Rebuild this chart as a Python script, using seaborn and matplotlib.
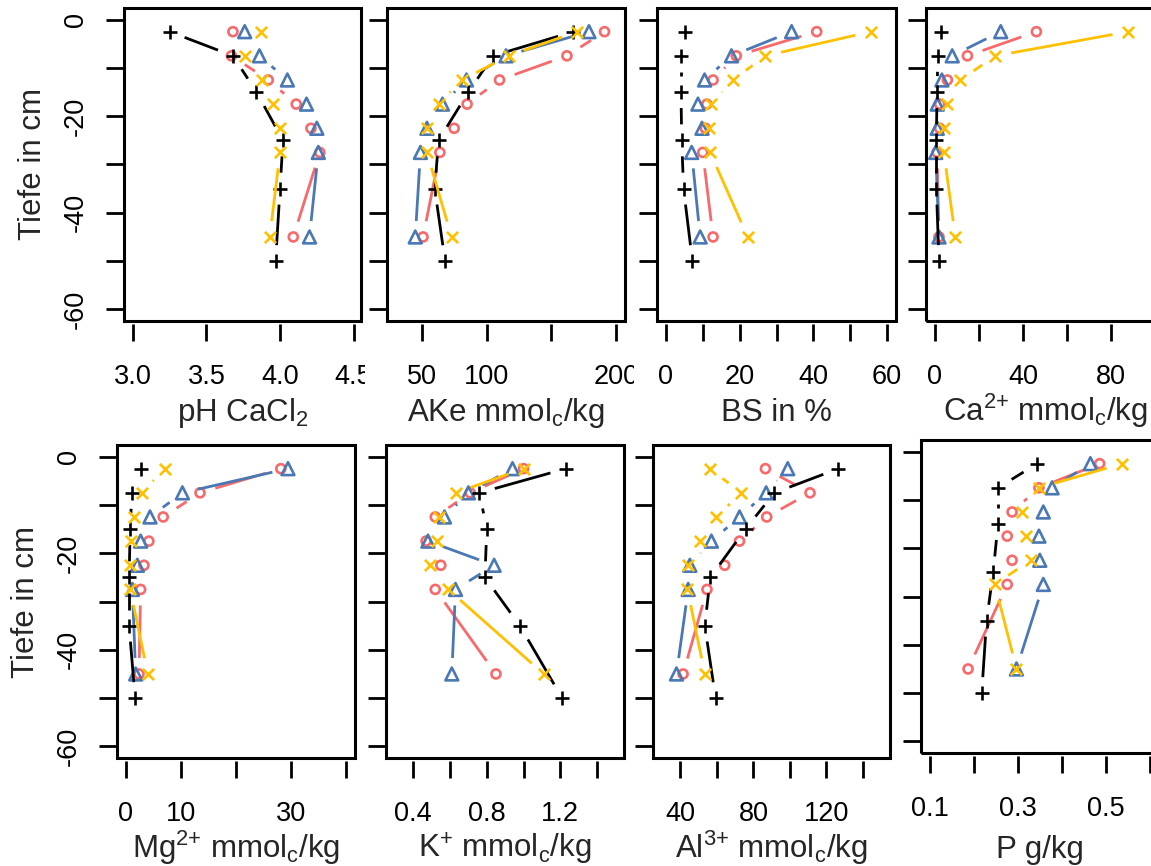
import matplotlib
matplotlib.use("Agg")
import matplotlib.pyplot as plt
import matplotlib.transforms as mtransforms
from matplotlib.patches import Rectangle
import numpy as np
import seaborn as sns

# depths (cm): coloured profiles and the black profile
depth_c = [-2.5, -7.5, -12.5, -17.5, -22.5, -27.5, -45]
depth_k = [-2.5, -7.5, -15, -25, -35, -50]

# pH CaCl2
ph_red = [3.68, 3.67, 3.92, 4.11, 4.21, 4.27, 4.09]
ph_blue = [3.76, 3.86, 4.05, 4.18, 4.25, 4.26, 4.20]
ph_black = [3.25, 3.68, 3.84, 4.02, 4.00, 3.97]
ph_yellow = [3.87, 3.76, 3.88, 3.95, 4.00, 4.00, 3.93]

# AKe mmolc/kg
ake_red = [191, 162, 110, 85, 75, 64, 51]
ake_blue = [179, 115, 84.5, 66, 54, 49, 45]
ake_black = [167, 105, 86, 63, 60, 68]
ake_yellow = [170, 117, 81, 63, 54, 54, 73]

# BS in %
bs_red = [40.9, 19.1, 12.8, 11.1, 10.7, 10.0, 12.8]
bs_blue = [34.1, 17.8, 10.5, 8.7, 9.8, 7.0, 9.3]
bs_black = [5.2, 4.1, 4.1, 4.3, 4.8, 7.2]
bs_yellow = [55.6, 27.0, 18.2, 12.3, 11.8, 12.0, 22.2]

# Ca2+ mmolc/kg
ca_red = [46.1, 14.8, 5.7, 2.2, 2.2, 1.0, 1.9]
ca_blue = [29.9, 7.9, 3.2, 1.1, 1.1, 0.4, 1.9]
ca_black = [2.9, 1.4, 1.0, 0.7, 0.7, 1.9]
ca_yellow = [87.8, 27.5, 11.6, 5.7, 4.1, 4.1, 9.3]

# Mg2+ mmolc/kg
mg_red = [28.2, 13.5, 6.8, 4.2, 3.3, 2.7, 2.4]
mg_blue = [29.5, 10.3, 4.4, 2.7, 2.1, 1.2, 1.8]
mg_black = [2.7, 1.1, 0.8, 0.6, 0.6, 1.7]
mg_yellow = [7.1, 2.9, 1.5, 0.9, 0.8, 0.8, 4.0]

# K+ mmolc/kg
k_red = [1.00, 0.71, 0.52, 0.47, 0.55, 0.52, 0.85]
k_blue = [0.94, 0.70, 0.57, 0.48, 0.84, 0.63, 0.61]
k_black = [1.23, 0.76, 0.80, 0.79, 0.98, 1.21]
k_yellow = [1.00, 0.63, 0.54, 0.53, 0.49, 0.59, 1.11]

# Al3+ mmolc/kg
al_red = [86.6, 111, 87.3, 72.4, 64.3, 54.6, 41.5]
al_blue = [98.8, 87, 72.4, 57, 45.2, 44.3, 37.9]
al_black = [126.5, 91.5, 75.7, 56.4, 53.4, 59.3]
al_yellow = [56.1, 73.4, 59.7, 50.6, 44.3, 43.9, 53.4]

# P g/kg
p_red = [0.486, 0.348, 0.287, 0.276, 0.287, 0.276, 0.187]
p_blue = [0.465, 0.378, 0.358, 0.348, 0.350, 0.358, 0.297]
p_black = [0.344, 0.255, 0.255, 0.244, 0.229, 0.218]
p_yellow = [0.537, 0.348, 0.309, 0.318, 0.329, 0.248, 0.297]

y_ticks = [-60, -50, -40, -30, -20, -10, 0]
y_labels = ["-60", "", "-40", "", "-20", "", "0"]

sns.set_style("ticks")
plt.rcParams["font.family"] = ["Liberation Sans", "DejaVu Sans"]
plt.rcParams["mathtext.fontset"] = "custom"
plt.rcParams["mathtext.rm"] = "Liberation Sans"
plt.rcParams["mathtext.default"] = "rm"

W, H = 1151, 866
fig = plt.figure(figsize=(W / 100, H / 100), dpi=100)
fig.patch.set_facecolor("white")

RED, BLUE, BLACK, YELLOW = "#F8696B", "#4A78B4", "#000000", "#FFC000"
styles = [(RED, "o", 42, True), (BLUE, "^", 85, True),
          (BLACK, "+", 110, False), (YELLOW, "x", 66, False)]
GAP = 16  # px gap around points (like R type="b")


def gapped_lines(ax, xs, ys, color, z):
    pts = ax.transData.transform(np.column_stack([xs, ys]))
    inv = ax.transData.inverted()
    for p0, p1 in zip(pts[:-1], pts[1:]):
        d = p1 - p0
        L = np.hypot(*d)
        if L <= 2 * GAP:
            continue
        u = d / L
        a, b = inv.transform(np.array([p0 + u * GAP, p1 - u * GAP]))
        ax.plot([a[0], b[0]], [a[1], b[1]], color=color, lw=2.0,
                solid_capstyle="butt", zorder=z)


def panel(box, xlim, xticks, xlabels, series, title, left_labels=False,
          clip_right=None, title_off=-100):
    l, t, r, b = box
    ax = fig.add_axes([l / W, 1 - b / H, (r - l) / W, (b - t) / H])
    ax.set_xlim(*xlim)
    ax.set_ylim(-62.4, 2.4)
    ax.set_facecolor("white")
    for sp in ax.spines.values():
        sp.set_visible(False)
    ax.spines["bottom"].set_position(("outward", 2.2))
    ax.add_patch(Rectangle((0, 0), 1, 1, transform=ax.transAxes, fill=False,
                           ec="black", lw=2.2, clip_on=False, zorder=20))

    for i, (vals, (col, mk, s, filled)) in enumerate(zip(series, styles)):
        depth = depth_k if col == BLACK else depth_c
        z = 3 + i
        gapped_lines(ax, vals, depth, col, z)
        kw = dict(facecolor="none", edgecolor=col) if filled else {}
        sns.scatterplot(x=vals, y=depth, ax=ax, marker=mk, s=s, color=col,
                        linewidth=1.9, zorder=z + 0.5, **kw)

    ax.set_xticks(xticks, xlabels)
    ax.set_yticks(y_ticks, y_labels if left_labels else [""] * len(y_ticks))
    ax.set_xlim(*xlim)
    ax.set_ylim(-62.4, 2.4)
    ax.set_xlabel("")
    ax.set_ylabel("")
    ax.tick_params(axis="x", length=12.3, width=2, pad=16.5, labelsize=19.5,
                   direction="out", color="black", labelcolor="black")
    ax.tick_params(axis="y", length=13, width=2, pad=12.5, labelsize=19.5,
                   direction="out", color="black", labelcolor="black",
                   labelrotation=90)
    for lab in ax.get_yticklabels():
        lab.set_va("center")
    if clip_right is not None:
        bb = mtransforms.Bbox.from_extents(0, 0, clip_right, H)
        for lab in ax.get_xticklabels():
            lab.set_clip_box(bb)
            lab.set_clip_on(True)

    tr = mtransforms.offset_copy(ax.transAxes, fig=fig, x=0, y=title_off, units="dots")
    ax.text(0.5, 0, title, transform=tr, ha="center", va="baseline", fontsize=22.5)
    if left_labels:
        tr2 = mtransforms.offset_copy(ax.transAxes, fig=fig, x=-91, y=0, units="dots")
        ax.text(0, 0.5, "Tiefe in cm", transform=tr2, rotation=90, ha="center",
                va="center", fontsize=22.5)
    return ax


# top row
panel((124, 8, 361, 321), (2.94, 4.55), [3.0, 3.5, 4.0, 4.5],
      ["3.0", "3.5", "4.0", "4.5"], [ph_red, ph_blue, ph_black, ph_yellow],
      r"pH CaCl$_2$", left_labels=True, clip_right=365)
panel((387, 8, 625, 321), (23.2, 206.8), [50, 100, 150, 200],
      ["50", "100", "", "200"], [ake_red, ake_blue, ake_black, ake_yellow],
      r"AKe mmol$_c$/kg", clip_right=634)
panel((657, 8, 896, 321), (-2.4, 62.4), [0, 10, 20, 30, 40, 50, 60],
      ["0", "", "20", "", "40", "", "60"], [bs_red, bs_blue, bs_black, bs_yellow],
      "BS in %")
panel((926, 8, 1164, 321), (-4, 104), [0, 20, 40, 60, 80, 100],
      ["0", "", "40", "", "80", ""], [ca_red, ca_blue, ca_black, ca_yellow],
      r"Ca$^{2{+}}$ mmol$_c$/kg")

# bottom row
panel((117, 445, 354.5, 758), (-1.6, 41.6), [0, 10, 20, 30, 40],
      ["0", "10", "", "30", ""], [mg_red, mg_blue, mg_black, mg_yellow],
      r"Mg$^{2{+}}$ mmol$_c$/kg", left_labels=True)
panel((386, 445, 624.3, 758), (0.252, 1.548), [0.4, 0.6, 0.8, 1.0, 1.2, 1.4],
      ["0.4", "", "0.8", "", "1.2", ""], [k_red, k_blue, k_black, k_yellow],
      r"K$^{+}$ mmol$_c$/kg")
panel((653.3, 445, 890, 758), (25.2, 154.8), [40, 60, 80, 100, 120, 140],
      ["40", "", "80", "", "120", ""], [al_red, al_blue, al_black, al_yellow],
      r"Al$^{3{+}}$ mmol$_c$/kg")
panel((921, 440, 1158.6, 753), (0.08, 0.62), [0.1, 0.2, 0.3, 0.4, 0.5, 0.6],
      ["0.1", "", "0.3", "", "0.5", ""], [p_red, p_blue, p_black, p_yellow],
      "P g/kg", title_off=-105)

fig.savefig("out.png", dpi=100, facecolor="white")
